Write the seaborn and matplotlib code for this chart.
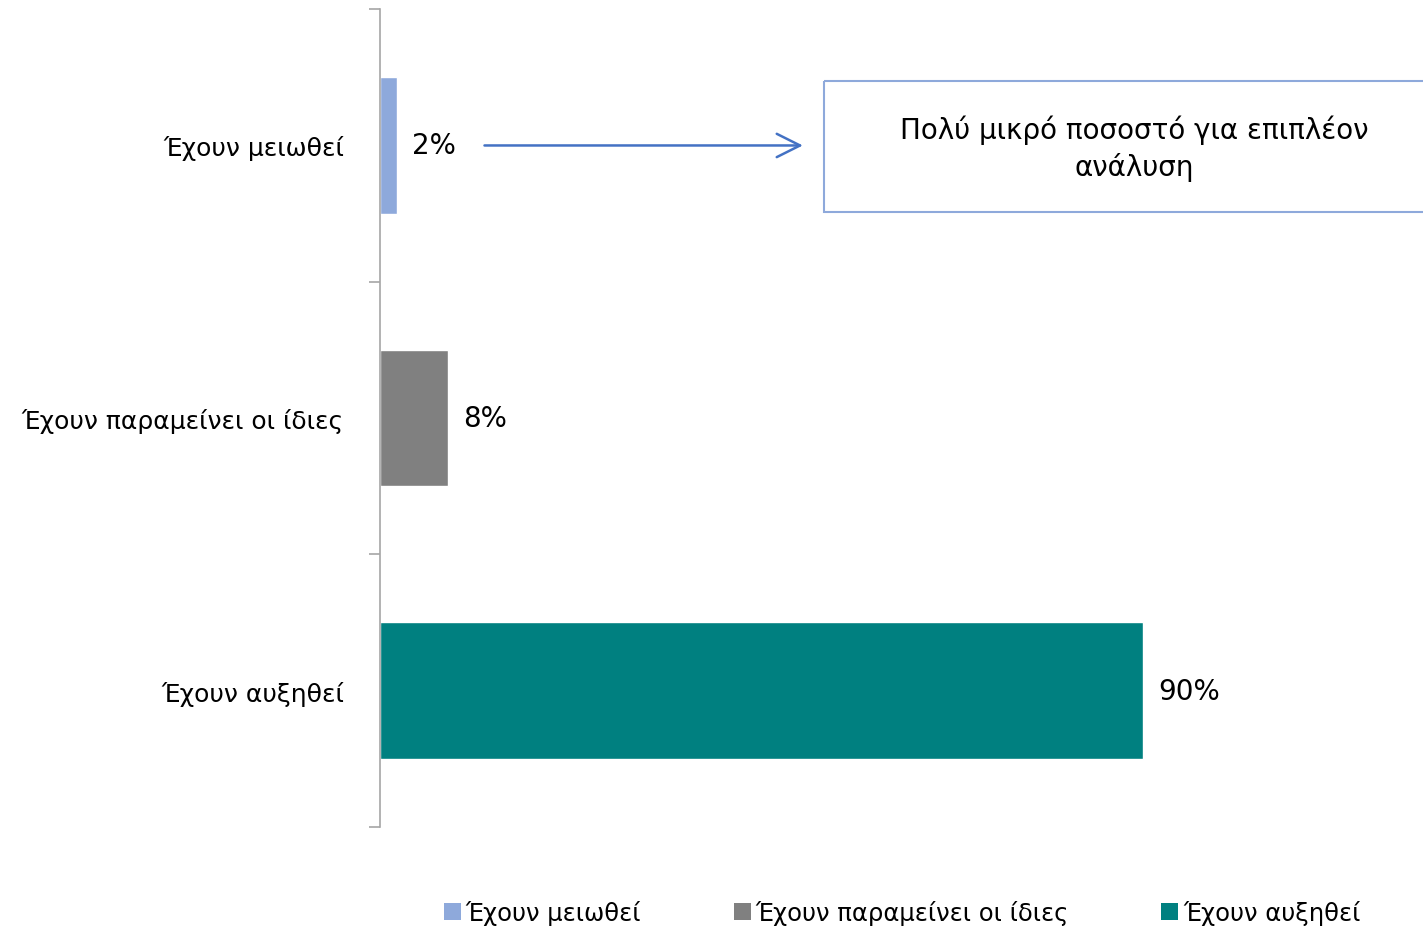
import matplotlib
matplotlib.use("Agg")
import matplotlib.pyplot as plt
import seaborn as sns
import pandas as pd
from matplotlib.patches import Rectangle, Patch

# δεδομένα
categories = ["Έχουν μειωθεί", "Έχουν παραμείνει οι ίδιες", "Έχουν αυξηθεί"]
values = [2, 8, 90]
colors = ["#8EA9DB", "#808080", "#008080"]
note_text = "Πολύ μικρό ποσοστό για επιπλέον\nανάλυση"

sns.set_theme(style="white")
plt.rcParams["font.family"] = ["DejaVu Sans"]
plt.rcParams["text.color"] = "black"
plt.rcParams["ytick.labelcolor"] = "black"

df = pd.DataFrame({"category": categories, "value": values})

fig = plt.figure(figsize=(14.23, 9.28), dpi=100)
ax = fig.add_axes([0.267, 0.108, 0.733, 0.881])

sns.barplot(data=df, x="value", y="category", hue="category",
            palette=dict(zip(categories, colors)), width=0.5,
            dodge=False, legend=False, saturation=1, ax=ax)

for cont in ax.containers:
    ax.bar_label(cont, fmt="%d%%", padding=11, fontsize=20, color="black")

ax.set_xlim(0, 123)
ax.set_ylim(2.5, -0.5)
ax.set_xlabel("")
ax.set_ylabel("")
ax.set_xticks([])
for side in ["top", "right", "bottom"]:
    ax.spines[side].set_visible(False)
ax.spines["left"].set_color("#A6A6A6")
ax.spines["left"].set_linewidth(1.2)

# ticks at category borders
ax.set_yticks([-0.5, 0.5, 1.5, 2.5], minor=True)
ax.tick_params(axis="y", which="minor", left=True, length=8,
               color="#A6A6A6", width=1.2)
ax.tick_params(axis="y", which="major", left=False, pad=20, labelsize=18)

# arrow and note box
ax.annotate("", xy=(50.2, 0), xytext=(12.0, 0),
            arrowprops=dict(arrowstyle="->", color="#4472C4", lw=1.8,
                            mutation_scale=42))
ax.add_patch(Rectangle((52.4, -0.235), 80, 0.48, fill=False,
                       edgecolor="#8EA9DB", lw=1.5, clip_on=False))
ax.text(88.9, 0.01, note_text, ha="center", va="center", fontsize=20,
        linespacing=1.35)

handles = [Patch(facecolor=c, edgecolor="none") for c in colors]
fig.legend(handles, categories, loc="center", ncol=3, frameon=False,
           bbox_to_anchor=(0.634, 0.016), handlelength=0.7,
           handleheight=0.7, handletextpad=0.2, columnspacing=3.8,
           prop={"size": 17.5})

fig.savefig("out.png", dpi=100)
